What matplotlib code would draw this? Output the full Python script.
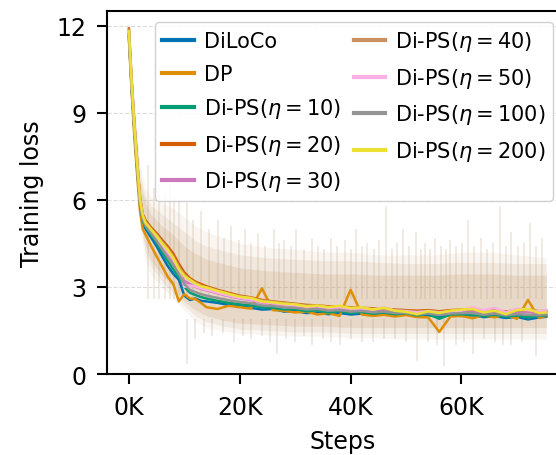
import numpy as np
import matplotlib
matplotlib.use("Agg")
import matplotlib.pyplot as plt
from matplotlib.ticker import FuncFormatter

# steps in thousands
steps_k = [0, 0.5, 1, 1.5, 2, 2.5, 3, 4, 5, 6, 7, 8, 9, 10, 11, 12, 13, 14,
           16, 18, 20, 22, 24, 26, 28, 30, 32, 34, 36, 38, 40, 42, 44, 46, 48,
           50, 52, 54, 56, 58, 60, 62, 64, 66, 68, 70, 72, 74, 75.3]

diloco = [11.6, 9.8, 8.3, 7.0, 5.8, 5.15, 5.0, 4.7, 4.4, 4.05, 3.72, 3.45, 3.25, 2.7, 2.55, 2.6, 2.52, 2.5,
          2.45, 2.38, 2.33, 2.28, 2.22, 2.24, 2.15, 2.17, 2.1, 2.12, 2.06, 2.1, 2.05, 2.08, 2.03, 2.07, 2.02,
          2.05, 1.98, 2.02, 1.97, 2.03, 2.0, 2.02, 1.96, 1.99, 1.93, 1.97, 1.88, 1.95, 1.97]
dp = [11.5, 9.7, 8.1, 6.8, 5.6, 4.99, 4.8, 4.41, 4.05, 3.7, 3.35, 3.1, 2.5, 2.75, 2.6, 2.58, 2.45, 2.3,
      2.24, 2.35, 2.3, 2.25, 2.95, 2.2, 2.18, 2.12, 2.15, 2.05, 2.1, 2.0, 2.9, 2.05, 2.0, 2.04, 1.98,
      2.03, 1.96, 1.95, 1.45, 1.98, 2.0, 1.92, 2.02, 1.95, 2.05, 1.9, 2.55, 1.93, 2.0]
ps10 = [11.7, 9.9, 8.4, 7.1, 5.9, 5.25, 5.08, 4.8, 4.52, 4.2, 3.9, 3.6, 3.35, 3.0, 2.8, 2.72, 2.65, 2.6,
        2.52, 2.45, 2.4, 2.36, 2.3, 2.28, 2.22, 2.24, 2.16, 2.2, 2.12, 2.17, 2.1, 2.14, 2.08, 2.12, 2.06,
        2.1, 2.02, 2.07, 1.9, 2.05, 2.06, 2.04, 2.0, 2.04, 1.98, 2.02, 1.95, 2.0, 2.02]
ps20 = [11.9, 10.1, 8.6, 7.3, 6.1, 5.5, 5.3, 5.05, 4.85, 4.62, 4.4, 4.15, 3.8, 3.5, 3.3, 3.18, 3.1, 3.02,
        2.9, 2.8, 2.7, 2.64, 2.55, 2.5, 2.46, 2.42, 2.38, 2.36, 2.33, 2.32, 2.3, 2.28, 2.26, 2.25, 2.22,
        2.2, 2.18, 2.2, 2.16, 2.2, 2.22, 2.25, 2.18, 2.2, 2.15, 2.2, 2.22, 2.16, 2.18]
ps30 = [11.7, 9.95, 8.45, 7.15, 5.95, 5.4, 5.15, 4.9, 4.65, 4.4, 4.15, 3.9, 3.55, 3.2, 3.1, 3.0, 2.93, 2.88,
        2.78, 2.68, 2.6, 2.55, 2.46, 2.42, 2.38, 2.34, 2.3, 2.3, 2.26, 2.27, 2.22, 2.24, 2.18, 2.2, 2.15,
        2.14, 2.1, 2.14, 2.08, 2.13, 2.15, 2.17, 2.1, 2.14, 2.08, 2.12, 2.14, 2.08, 2.1]
ps40 = [11.85, 10.05, 8.55, 7.25, 6.05, 5.45, 5.25, 5.0, 4.8, 4.55, 4.32, 4.05, 3.7, 3.42, 3.24, 3.14, 3.05, 2.98,
        2.88, 2.77, 2.68, 2.62, 2.53, 2.49, 2.44, 2.41, 2.36, 2.35, 2.31, 2.3, 2.28, 2.27, 2.24, 2.24, 2.2,
        2.18, 2.15, 2.18, 2.13, 2.17, 2.2, 2.22, 2.16, 2.19, 2.13, 2.18, 2.2, 2.14, 2.16]
ps50 = [11.75, 10.0, 8.5, 7.2, 6.0, 5.4, 5.18, 4.92, 4.68, 4.44, 4.2, 3.95, 3.6, 3.0, 3.05, 3.02, 2.95, 2.9,
        2.8, 2.7, 2.62, 2.57, 2.48, 2.44, 2.4, 2.36, 2.32, 2.33, 2.28, 2.3, 2.25, 2.26, 2.22, 2.3, 2.18,
        2.16, 2.12, 2.16, 2.12, 2.15, 2.18, 2.3, 2.2, 2.28, 2.12, 2.26, 2.2, 2.16, 2.2]
ps100 = [11.7, 9.9, 8.4, 7.1, 5.9, 5.3, 5.1, 4.85, 4.58, 4.3, 4.02, 3.75, 3.45, 3.1, 2.9, 2.82, 2.75, 2.7,
         2.62, 2.54, 2.48, 2.44, 2.36, 2.34, 2.29, 2.28, 2.22, 2.24, 2.18, 2.2, 2.15, 2.17, 2.12, 2.15, 2.1,
         2.11, 2.05, 2.09, 2.03, 2.08, 2.1, 2.1, 2.04, 2.08, 2.02, 2.06, 2.04, 2.02, 2.05]
ps200 = [11.8, 10.0, 8.5, 7.2, 6.0, 5.45, 5.2, 4.98, 4.75, 4.5, 4.28, 4.0, 3.62, 3.38, 3.25, 3.12, 3.02, 2.98,
         2.86, 2.76, 2.66, 2.62, 2.5, 2.47, 2.42, 2.4, 2.33, 2.36, 2.3, 2.35, 2.27, 2.3, 2.22, 2.28, 2.18,
         2.14, 2.06, 2.16, 2.1, 2.18, 2.22, 2.24, 2.12, 2.18, 2.06, 2.2, 2.24, 2.1, 2.12]

labels = ['DiLoCo', 'DP', r'Di-PS($\eta=10$)', r'Di-PS($\eta=20$)', r'Di-PS($\eta=30$)',
          r'Di-PS($\eta=40$)', r'Di-PS($\eta=50$)', r'Di-PS($\eta=100$)', r'Di-PS($\eta=200$)']
colors = ['#0173b2', '#de8f05', '#029e73', '#d55e00', '#cc78bc',
          '#ca9161', '#fbafe4', '#949494', '#ece133']
series = [diloco, dp, ps10, ps20, ps30, ps40, ps50, ps100, ps200]

# spread of the raw (unsmoothed) losses
band_k = [0, 1, 2, 3, 4, 6, 8, 10, 12, 14, 17, 20, 25, 30, 35, 40, 45, 50, 55, 60, 65, 70, 75.3]
band_hi = [12.0, 9.4, 7.2, 6.4, 6.1, 5.9, 5.7, 5.4, 5.1, 4.9, 4.7, 4.5, 4.35, 4.3, 4.2, 4.2, 4.1, 4.1, 4.1, 4.2, 4.2, 4.1, 4.0]
band_lo = [11.2, 7.5, 5.0, 3.9, 3.4, 3.0, 2.6, 2.2, 1.8, 1.6, 1.5, 1.4, 1.35, 1.3, 1.3, 1.25, 1.25, 1.2, 1.2, 1.2, 1.2, 1.2, 1.2]
mid_hi = [11.95, 9.1, 6.9, 6.1, 5.8, 5.5, 5.2, 4.9, 4.6, 4.4, 4.25, 4.1, 4.0, 3.95, 3.9, 3.9, 3.85, 3.8, 3.8, 3.85, 3.85, 3.8, 3.8]
mid_lo = [11.3, 7.7, 5.2, 4.2, 3.7, 3.2, 2.8, 2.35, 2.0, 1.8, 1.65, 1.55, 1.5, 1.45, 1.45, 1.4, 1.4, 1.4, 1.4, 1.4, 1.4, 1.4, 1.4]
core_hi = [11.9, 8.9, 6.6, 5.9, 5.5, 5.1, 4.8, 4.4, 4.15, 3.95, 3.8, 3.65, 3.55, 3.5, 3.45, 3.45, 3.4, 3.4, 3.4, 3.45, 3.45, 3.4, 3.4]
core_lo = [11.4, 7.9, 5.4, 4.4, 3.9, 3.4, 3.0, 2.5, 2.2, 2.0, 1.85, 1.75, 1.7, 1.65, 1.65, 1.6, 1.6, 1.6, 1.6, 1.6, 1.6, 1.6, 1.6]
spike_up_k = [3.5, 4.5, 5.5, 6.5, 7.5, 8.2, 9, 10.4, 11.5, 13, 14.5, 16, 17.2, 18.5, 19.8, 21, 22.1, 23.2,
              24.5, 26.2, 27.1, 28, 29.3, 30.2, 31.5, 33, 34.1, 35.2, 36.4, 37.5, 39, 40.1, 41, 42.1, 43,
              44.3, 45.2, 46.4, 47.5, 48.4, 49.4, 50.6, 51.8, 52.7, 53.5, 54.4, 55.3, 56.3, 57.2, 58,
              59.1, 60.1, 61.2, 62.3, 63.5, 64.6, 65.7, 66.9, 68, 69, 70.2, 71.2, 72.3, 73.4, 74.5]
spike_up = [7.2, 6.4, 6.6, 6.2, 6.8, 6.1, 6.0, 5.9, 5.3, 5.6, 5.0, 5.3, 4.7, 5.1, 4.6, 5.0, 4.5, 4.85,
            4.4, 5.0, 4.5, 4.6, 4.4, 5.0, 4.3, 4.7, 4.4, 4.3, 4.7, 4.4, 4.6, 4.3, 5.0, 4.4, 4.5,
            4.3, 4.6, 5.8, 4.3, 4.5, 5.0, 4.4, 4.9, 4.3, 4.5, 4.3, 4.7, 4.4, 4.3, 4.6,
            4.4, 4.5, 5.3, 4.4, 4.7, 4.3, 4.5, 5.8, 4.4, 4.9, 4.4, 4.5, 5.2, 4.4, 4.7]
spike_dn_k = [10.4, 12, 13.6, 15, 17, 19, 20.5, 22, 24, 25.5, 26.8, 28.4, 30, 31.6, 33, 35, 36.5, 38,
              40, 42, 44, 46, 48, 50, 52, 54, 55.5, 56.8, 59, 60.5, 62, 64, 66, 67.5, 69, 71, 73.4]
spike_dn = [0.34, 1.2, 1.4, 1.3, 1.4, 1.1, 1.3, 1.2, 1.3, 1.1, 0.69, 1.2, 1.1, 1.3, 1.0, 1.2, 1.1, 1.0,
            1.2, 1.1, 1.1, 1.2, 1.2, 1.1, 0.46, 1.1, 1.0, 0.29, 1.0, 1.1, 0.69, 1.2, 1.1, 1.0, 1.0, 1.1, 0.63]

x = np.array(steps_k) * 1000
bx = np.array(band_k) * 1000

fig = plt.figure(figsize=(5.56, 4.56), dpi=100)
ax = fig.add_axes([0.1933, 0.1776, 0.846, 0.796])

band_col = '#c9a27a'
ax.fill_between(bx, band_lo, band_hi, color=band_col, alpha=0.1, lw=0)
ax.fill_between(bx, mid_lo, mid_hi, color=band_col, alpha=0.15, lw=0)
ax.fill_between(bx, core_lo, core_hi, color=band_col, alpha=0.22, lw=0)
ax.vlines(np.array(spike_up_k) * 1000, 2.6, spike_up, color='#b8956e', alpha=0.25, lw=1.1)
ax.vlines(np.array(spike_dn_k) * 1000, spike_dn, 1.9, color='#a89080', alpha=0.25, lw=1.1)

for y, c, lab in zip(series, colors, labels):
    ax.plot(x, y, color=c, lw=1.8, label=lab)

ax.set_xlim(-3870, 81000)
ax.set_ylim(0, 12.5)
ax.set_xticks([0, 20000, 40000, 60000])
ax.set_yticks([0, 3, 6, 9, 12])
ax.xaxis.set_major_formatter(FuncFormatter(lambda v, p: f'{int(v / 1000)}K'))
ax.yaxis.grid(True, ls='--', color='#cccccc', lw=0.8, alpha=0.7)
ax.set_axisbelow(True)
for s in ax.spines.values():
    s.set_linewidth(1.5)
ax.tick_params(direction='out', length=7, width=1.5, pad=8, labelsize=17)
ax.set_xlabel('Steps', fontsize=17, labelpad=7)
ax.set_ylabel('Training loss', fontsize=17, labelpad=9)

leg = ax.legend(loc='upper right', bbox_to_anchor=(553 / 556, 1 - 23 / 456),
                bbox_transform=fig.transFigure, borderaxespad=0, ncol=2, fontsize=15,
                handlelength=1.5, handletextpad=0.5, columnspacing=0.6, labelspacing=0.6,
                borderpad=0.35, framealpha=0.9, edgecolor='#cccccc')
for l in leg.get_lines():
    l.set_linewidth(3)

fig.savefig('out.png', dpi=100)
